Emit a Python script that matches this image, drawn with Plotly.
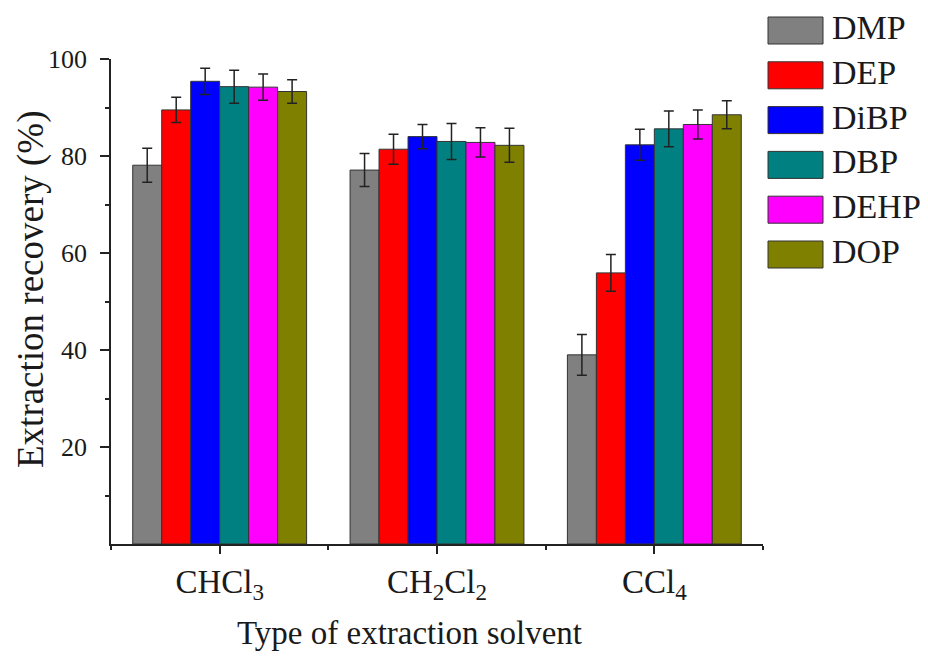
import plotly.graph_objects as go

# ---- data ----
solvents = ["CHCl<sub>3</sub>", "CH<sub>2</sub>Cl<sub>2</sub>", "CCl<sub>4</sub>"]
series_names = ["DMP", "DEP", "DiBP", "DBP", "DEHP", "DOP"]
DMP = [78.1, 77.1, 39.0]
DEP = [89.5, 81.4, 55.9]
DiBP = [95.4, 84.0, 82.3]
DBP = [94.3, 83.0, 85.6]
DEHP = [94.2, 82.8, 86.5]
DOP = [93.3, 82.2, 88.5]
DMP_err = [3.5, 3.4, 4.2]
DEP_err = [2.6, 3.1, 3.8]
DiBP_err = [2.7, 2.5, 3.2]
DBP_err = [3.4, 3.7, 3.7]
DEHP_err = [2.7, 3.0, 3.0]
DOP_err = [2.4, 3.5, 2.9]
y_ticks = [20, 40, 60, 80, 100]
x_title = "Type of extraction solvent"
y_title = "Extraction recovery (%)"

values = [DMP, DEP, DiBP, DBP, DEHP, DOP]
errors = [DMP_err, DEP_err, DiBP_err, DBP_err, DEHP_err, DOP_err]
colors = ["#808080", "#FF0000", "#0000FF", "#008080", "#FF00FF", "#808000"]

FONT = "Liberation Serif"
TXT = "#1a1a1a"

OFF = 8  # page body margin offset
W, H = 928 - OFF, 657 - OFF
L, T = 111 - OFF, 59 - OFF
R = W - (763 - OFF)
B = H - (544 - OFF)
pw, ph = W - L - R, H - T - B

xpos = list(range(len(solvents)))

fig = go.Figure()
for name, vals, errs, col in zip(series_names, values, errors, colors):
    fig.add_trace(go.Bar(
        x=xpos, y=vals, name=name, showlegend=False,
        marker=dict(color=col, line=dict(color="#333333", width=1)),
        error_y=dict(type="data", array=errs, visible=True,
                     color="#222222", thickness=1.5, width=5),
    ))

# helpers: reference-pixel position -> paper coordinates
def px2x(px):
    return (px - OFF - L) / pw

def py2y(py):
    return (H - B - (py - OFF)) / ph

# custom legend (large boxes like the reference)
for i, (name, col) in enumerate(zip(series_names, colors)):
    cy = 30.5 + 44.8 * i
    fig.add_shape(type="rect", xref="paper", yref="paper",
                  x0=px2x(768), x1=px2x(823), y0=py2y(cy + 13.5), y1=py2y(cy - 13.5),
                  fillcolor=col, line=dict(color="#333333", width=1))
    fig.add_annotation(xref="paper", yref="paper", x=px2x(830), y=py2y(cy - 3),
                       text=name, showarrow=False, xanchor="left", yanchor="middle",
                       font=dict(family=FONT, size=34, color=TXT))

# axis titles
fig.add_annotation(xref="paper", yref="paper", x=px2x(409), y=py2y(633),
                   text=x_title, showarrow=False, xanchor="center", yanchor="middle",
                   font=dict(family=FONT, size=33, color=TXT))
fig.add_annotation(xref="paper", yref="paper", x=px2x(31), y=py2y(290),
                   text=y_title, showarrow=False, xanchor="center", yanchor="middle",
                   textangle=-90, font=dict(family=FONT, size=37, color=TXT))

fig.update_layout(
    width=W, height=H,
    margin=dict(l=L, r=R, t=T, b=B, pad=0),
    paper_bgcolor="white", plot_bgcolor="white",
    barmode="group", bargap=0.2, bargroupgap=0,
    font=dict(family=FONT, color=TXT),
    showlegend=False,
)
fig.update_xaxes(
    range=[-0.5, 2.5], tickvals=xpos, ticktext=solvents,
    showline=True, linecolor="#222222", linewidth=1.5,
    ticks="outside", ticklen=8, tickwidth=1.5, tickcolor="#222222",
    minor=dict(tick0=0.5, dtick=1, ticks="outside", ticklen=4, tickwidth=1.5, tickcolor="#222222"),
    showgrid=False, zeroline=False,
    tickfont=dict(family=FONT, size=33, color=TXT),
)
fig.update_yaxes(
    range=[0, 100], tickvals=y_ticks,
    showline=True, linecolor="#222222", linewidth=1.5,
    ticks="outside", ticklen=9, tickwidth=1.5, tickcolor="#222222",
    ticklabelstandoff=8,
    minor=dict(tick0=10, dtick=20, ticks="outside", ticklen=4, tickwidth=1.5, tickcolor="#222222"),
    showgrid=False, zeroline=False,
    tickfont=dict(family=FONT, size=26, color=TXT),
)

fig.write_html("out.html")
